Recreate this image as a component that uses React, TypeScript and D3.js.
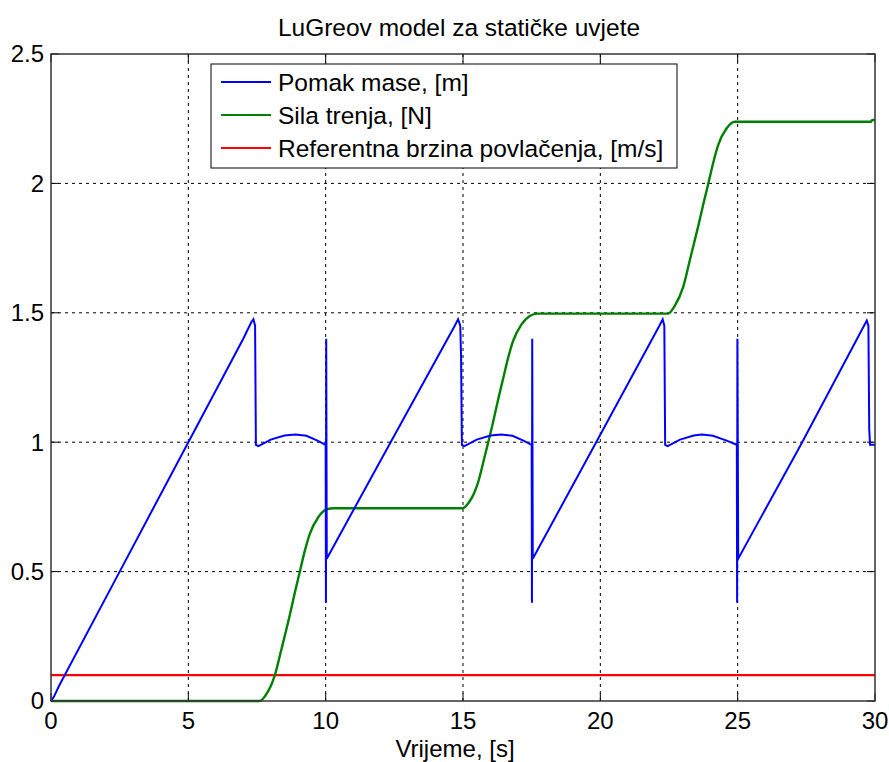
import React from "react";
import * as d3 from "d3";

// time [s], value pairs
const pomakMase: [number, number][] = [
  [0, 0], [0.1, 0.015], [0.3, 0.06], [2.5, 0.5], [5, 1.0], [7.0, 1.4],
  [7.3, 1.465], [7.37, 1.475], [7.43, 1.45], [7.46, 0.99], [7.55, 0.985],
  [8.0, 1.01], [8.5, 1.026], [8.9, 1.03], [9.3, 1.025], [9.7, 1.006], [10.0, 0.99],
  [10.01, 0.38], [10.02, 1.4], [10.04, 0.55],
  [12.34, 0.995], [14.7, 1.45], [14.82, 1.475], [14.9, 1.45], [14.93, 1.33],
  [14.96, 0.99], [15.05, 0.985], [15.5, 1.01], [16.0, 1.026], [16.4, 1.03],
  [16.8, 1.025], [17.2, 1.006], [17.5, 0.99],
  [17.51, 0.38], [17.52, 1.4], [17.54, 0.55],
  [19.8, 0.99], [22.15, 1.45], [22.27, 1.475], [22.33, 1.45], [22.36, 0.99],
  [22.45, 0.985], [22.9, 1.01], [23.4, 1.026], [23.7, 1.03], [24.1, 1.025],
  [24.6, 1.006], [24.97, 0.99],
  [24.98, 0.38], [24.99, 1.4], [25.02, 0.55],
  [27.3, 0.99], [29.6, 1.45], [29.7, 1.47], [29.76, 1.45], [29.79, 1.05],
  [29.82, 0.99], [30, 0.99],
];

const silaTrenja: [number, number][] = [
  [0, 0], [7.6, 0], [7.8, 0.02], [8.15, 0.1], [8.39, 0.2], [8.69, 0.33],
  [8.88, 0.42], [9.06, 0.5], [9.24, 0.58], [9.42, 0.645], [9.73, 0.71],
  [10.03, 0.74], [10.3, 0.745],
  [15.0, 0.745], [15.2, 0.765], [15.55, 0.845], [15.79, 0.945], [16.09, 1.075],
  [16.28, 1.165], [16.46, 1.245], [16.64, 1.325], [16.82, 1.39], [17.13, 1.455],
  [17.43, 1.488], [17.7, 1.497],
  [22.47, 1.497], [22.7, 1.525], [23.02, 1.601], [23.26, 1.704], [23.56, 1.833],
  [23.75, 1.92], [23.93, 1.999], [24.11, 2.08], [24.29, 2.148], [24.6, 2.213],
  [24.9, 2.238], [29.85, 2.238], [29.9, 2.245], [30, 2.245],
];

const referentnaBrzina: [number, number][] = [[0, 0.1], [30, 0.1]];

const xTicks = [0, 5, 10, 15, 20, 25, 30];
const yTicks = [0, 0.5, 1, 1.5, 2, 2.5];
const yTickLabels = ["0", "0.5", "1", "1.5", "2", "2.5"];

const legendItems = [
  { label: "Pomak mase, [m]", color: "#0000ff" },
  { label: "Sila trenja, [N]", color: "#008000" },
  { label: "Referentna brzina povlačenja, [m/s]", color: "#ff0000" },
];

const W = 889;
const H = 762;
const left = 51, right = 875, top = 54, bottom = 701;
const font = "Arial, 'Liberation Sans', sans-serif";

export default function App() {
  const x = d3.scaleLinear().domain([0, 30]).range([left, right]);
  const y = d3.scaleLinear().domain([0, 2.5]).range([bottom, top]);
  const line = d3.line<[number, number]>().x(d => x(d[0])).y(d => y(d[1]));
  const smooth = d3.line<[number, number]>().x(d => x(d[0])).y(d => y(d[1])).curve(d3.curveMonotoneX);

  return (
    <svg width={W} height={H} style={{ position: "fixed", left: 0, top: 0, background: "#fff" }} fontFamily={font}>
      <rect x={0} y={0} width={W} height={H} fill="#fff" />
      <text x={459} y={36} fontSize={24.5} textAnchor="middle" fill="#000">
        LuGreov model za statičke uvjete
      </text>

      {/* grid */}
      {xTicks.slice(1, -1).map(t => (
        <line key={"gx" + t} x1={x(t)} x2={x(t)} y1={top} y2={bottom} stroke="#000" strokeWidth={1} strokeDasharray="3,4" />
      ))}
      {yTicks.slice(1, -1).map(t => (
        <line key={"gy" + t} x1={left} x2={right} y1={y(t)} y2={y(t)} stroke="#000" strokeWidth={1} strokeDasharray="3,4" />
      ))}

      {/* ticks */}
      {xTicks.map(t => (
        <g key={"tx" + t}>
          <line x1={x(t)} x2={x(t)} y1={bottom} y2={bottom - 8} stroke="#000" />
          <line x1={x(t)} x2={x(t)} y1={top} y2={top + 8} stroke="#000" />
          <text x={x(t)} y={729} fontSize={24} textAnchor="middle" fill="#000">{t}</text>
        </g>
      ))}
      {yTicks.map((t, i) => (
        <g key={"ty" + t}>
          <line x1={left} x2={left + 8} y1={y(t)} y2={y(t)} stroke="#000" />
          <line x1={right} x2={right - 8} y1={y(t)} y2={y(t)} stroke="#000" />
          <text x={44} y={y(t)} dy="0.35em" fontSize={24} textAnchor="end" fill="#000">{yTickLabels[i]}</text>
        </g>
      ))}

      {/* series */}
      <path d={line(referentnaBrzina) ?? ""} fill="none" stroke="#ff0000" strokeWidth={2.2} />
      <path d={smooth(silaTrenja) ?? ""} fill="none" stroke="#008000" strokeWidth={2.4} />
      <path d={line(pomakMase) ?? ""} fill="none" stroke="#0000ff" strokeWidth={2} />

      {/* axes box */}
      <rect x={left} y={top} width={right - left} height={bottom - top} fill="none" stroke="#333" strokeWidth={1.5} />

      {/* legend */}
      <rect x={211} y={64} width={466} height={104} fill="#fff" stroke="#000" strokeWidth={1} />
      {legendItems.map((d, i) => (
        <g key={d.label} transform={`translate(0, ${82 + i * 33})`}>
          <line x1={221} x2={271} y1={0} y2={0} stroke={d.color} strokeWidth={2.2} />
          <text x={278} y={9} fontSize={24.5} fill="#000">{d.label}</text>
        </g>
      ))}

      <text x={455} y={757} fontSize={24} textAnchor="middle" fill="#000">Vrijeme, [s]</text>
    </svg>
  );
}
